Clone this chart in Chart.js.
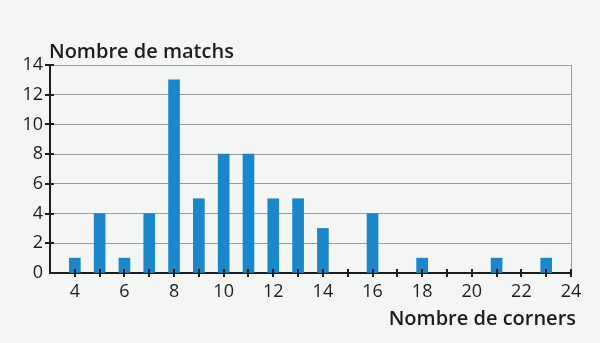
<!DOCTYPE html>
<html>
<head>
<meta charset="utf-8">
<script src="https://cdn.jsdelivr.net/npm/chart.js@4"></script>
<style>
  html, body { margin: 0; padding: 0; background: #f3f6f5; }
  #wrap { width: 600px; height: 343px; }
</style>
</head>
<body>
<div id="wrap"><canvas id="cornersChart" width="600" height="343"></canvas></div>
<script>
// Nombre de corners par match
const corners = [4, 5, 6, 7, 8, 9, 10, 11, 12, 13, 14, 16, 18, 21, 23];
const matchs = [1, 4, 1, 4, 13, 5, 8, 8, 5, 5, 3, 4, 1, 1, 1];
const xMin = 3, xMax = 24;
const yMax = 14, yStep = 2;
const yTitle = "Nombre de matchs";
const xTitle = "Nombre de corners";

const ink = "#1d1d1d";
const font = "'Open Sans', 'Noto Sans', sans-serif";

// small crosses on both axes + axis titles
const axisDecor = {
  id: "axisDecor",
  afterDraw(chart) {
    const ctx = chart.ctx;
    const x = chart.scales.x, y = chart.scales.y;
    const area = chart.chartArea;
    ctx.save();
    ctx.strokeStyle = ink;
    ctx.lineWidth = 2;
    x.ticks.forEach(t => {
      if (t.value <= xMin) return;
      const px = Math.round(x.getPixelForValue(t.value));
      ctx.beginPath();
      ctx.moveTo(px, area.bottom - 4);
      ctx.lineTo(px, area.bottom + 4);
      ctx.stroke();
    });
    y.ticks.forEach(t => {
      if (t.value <= 0) return;
      const py = Math.round(y.getPixelForValue(t.value));
      ctx.beginPath();
      ctx.moveTo(area.left - 5, py);
      ctx.lineTo(area.left + 4, py);
      ctx.stroke();
    });
    ctx.fillStyle = ink;
    ctx.font = "600 20px " + font;
    ctx.textAlign = "left";
    ctx.textBaseline = "alphabetic";
    ctx.fillText(yTitle, area.left - 1, area.top - 7);
    ctx.textAlign = "right";
    ctx.fillText(xTitle, area.right + 5, area.bottom + 52);
    ctx.restore();
  }
};

new Chart(document.getElementById("cornersChart"), {
  type: "bar",
  data: {
    datasets: [{
      data: corners.map((c, i) => ({ x: c, y: matchs[i] })),
      backgroundColor: "#1b86c9",
      barThickness: 11
    }]
  },
  options: {
    responsive: false,
    animation: false,
    layout: { padding: { top: 65, right: 29, left: 0, bottom: 0 } },
    plugins: { legend: { display: false }, tooltip: { enabled: false } },
    scales: {
      x: {
        type: "linear",
        min: xMin,
        max: xMax,
        offset: false,
        afterFit(s) { s.height = 70; },
        border: { color: ink, width: 2 },
        grid: {
          offset: false,
          drawTicks: false,
          color: c => (c.tick && c.tick.value === xMax ? "#9c9c9c" : "rgba(0,0,0,0)"),
          lineWidth: 1
        },
        ticks: {
          stepSize: 1,
          padding: 8,
          color: ink,
          font: { family: font, size: 18 },
          maxRotation: 0,
          autoSkip: false,
          callback: v => (v % 2 === 0 && v >= 4 ? v : "")
        }
      },
      y: {
        min: 0,
        max: yMax,
        afterFit(s) { s.width = 50; },
        border: { color: ink, width: 2 },
        grid: {
          drawTicks: false,
          color: c => (c.tick && c.tick.value > 0 ? "#9c9c9c" : "rgba(0,0,0,0)"),
          lineWidth: 1,
          borderDash: [2, 1]
        },
        ticks: {
          stepSize: yStep,
          padding: 7,
          color: ink,
          font: { family: font, size: 18 }
        }
      }
    }
  },
  plugins: [axisDecor]
});
</script>
</body>
</html>
